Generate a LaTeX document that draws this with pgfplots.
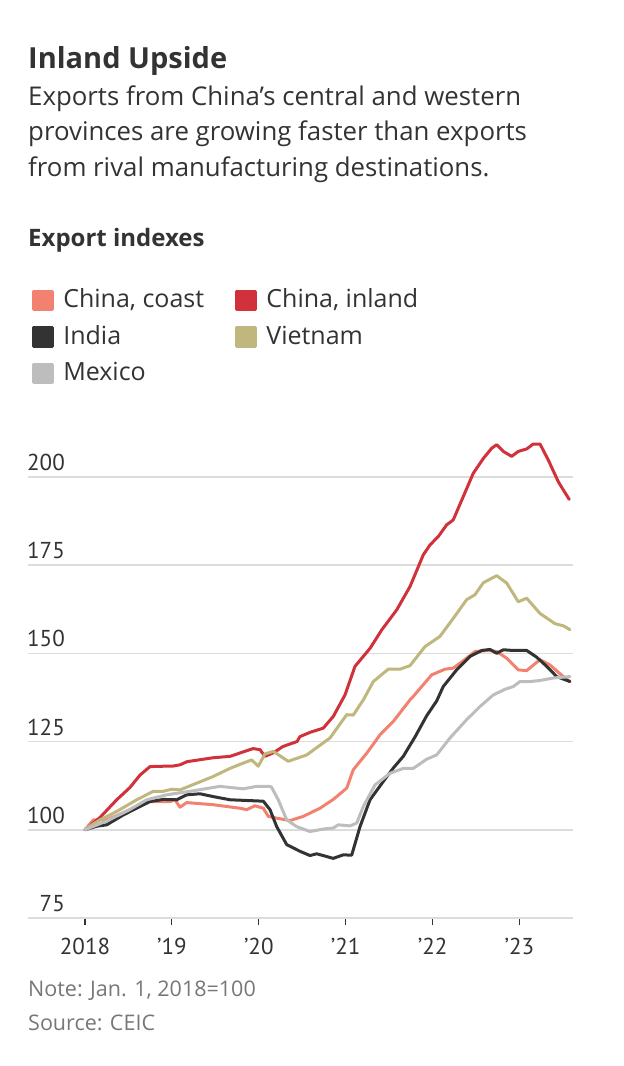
\documentclass[border=0pt]{standalone}
\usepackage{fontspec}
\setmainfont{Open Sans}
\newfontfamily\ticksfont{PT Sans}
\usepackage{pgfplots}
\pgfplotsset{compat=1.18}
\definecolor{coast}{HTML}{F2826F}
\definecolor{inland}{HTML}{D1313A}
\definecolor{india}{HTML}{333333}
\definecolor{vietnam}{HTML}{BFB77D}
\definecolor{mexico}{HTML}{BDBDBD}
\definecolor{gridc}{HTML}{DCDCDC}
\definecolor{txt}{HTML}{333333}
\definecolor{notec}{HTML}{777777}
\begin{document}
\begin{tikzpicture}[x=1pt,y=1pt]
\path[use as bounding box] (0,0) rectangle (624,-1066);
\node[anchor=base west, inner sep=0, text=txt, font=\bfseries\fontsize{29}{36}\selectfont] at (28,-68.3) {Inland Upside};
\node[anchor=base west, inner sep=0, text=txt, font=\fontsize{25.8}{30}\selectfont] at (28,-105) {Exports from China’s central and western};
\node[anchor=base west, inner sep=0, text=txt, font=\fontsize{25.8}{30}\selectfont] at (28,-140.7) {provinces are growing faster than exports};
\node[anchor=base west, inner sep=0, text=txt, font=\fontsize{25.8}{30}\selectfont] at (28,-176.5) {from rival manufacturing destinations.};
\node[anchor=base west, inner sep=0, text=txt, font=\bfseries\fontsize{24}{30}\selectfont] at (28,-246.7) {Export indexes};
\node[anchor=base west, inner sep=0, text=notec, font=\fontsize{21.5}{26}\selectfont] at (28,-996.7) {Note: Jan. 1, 2018=100};
\node[anchor=base west, inner sep=0, text=notec, font=\fontsize{21.5}{26}\selectfont] at (28,-1030.7) {Source: CEIC};
\begin{axis}[
  at={(28pt,-918pt)}, anchor=south west,
  scale only axis, width=545pt, height=480pt,
  xmin=-0.656, xmax=5.616, ymin=75, ymax=211,
  clip=false,
  separate axis lines,
  axis x line*=bottom, axis y line*=left,
  x axis line style={draw=gridc, line width=1.5pt},
  y axis line style={draw=none},
  xtick={0,1,2,3,4,5},
  xticklabels={2018,’19,’20,’21,’22,’23},
  ytick={75,100,125,150,175,200},
  ymajorgrids,
  grid style={draw=gridc, line width=1.5pt},
  tick align=outside,
  major tick length=7pt,
  xtick style={draw=txt, line width=1.2pt},
  ytick style={draw=none},
  /pgf/number format/assume math mode=true,
  ticklabel style={font=\ticksfont\fontsize{23}{23}\selectfont, text=txt},
  xticklabel style={anchor=north, inner sep=0pt, yshift=-13pt},
  yticklabel style={anchor=south east, inner sep=0pt, xshift=44pt, yshift=6pt},
  legend columns=2,
  legend cell align=left,
  legend style={at={(axis description cs:0.00734,1.3131)}, anchor=north west,
    draw=none, fill=none, inner sep=0pt, row sep=11.5pt,
    font=\fontsize{25}{25}\selectfont, text=txt,
    nodes={inner sep=0pt, text height=20pt, text depth=5pt},
    /tikz/every odd column/.append style={column sep=9.5pt},
    /tikz/every even column/.append style={column sep=0pt}},
  legend image code/.code={\fill[#1] (0pt,-9.3pt) rectangle (18.6pt,9.3pt);},
  every axis plot/.append style={line width=3pt, line join=round, line cap=round},
]
\addplot[color=coast] coordinates {
(0,100) (0.096,102.8) (0.250,102.8) (0.518,105.7) (0.748,108) (0.978,108) (1.036,108.5) (1.093,106.4) (1.170,107.7) (1.476,107.1) (1.784,106.1) (1.861,105.7) (1.956,106.8) (2.052,106.1) (2.109,103.8) (2.206,103.3) (2.359,102.6) (2.512,103.8) (2.704,106.1) (2.857,108.6) (3.012,111.8) (3.087,117) (3.242,121.7) (3.395,126.9) (3.548,130.7) (3.740,136.8) (3.778,137.8) (3.990,143.9) (4.143,145.5) (4.238,145.8) (4.392,148.6) (4.488,150.5) (4.641,150.8) (4.738,150.5) (4.853,148.6) (4.986,145.3) (5.083,145.1) (5.236,148.2) (5.351,146.7) (5.504,143.4) (5.581,142)
};
\addlegendentry{\makebox[172pt][l]{China, coast}}
\addplot[color=inland] coordinates {
(0,100) (0.173,103.5) (0.365,108.5) (0.518,112) (0.633,115.5) (0.748,117.9) (0.898,118.0) (0.998,118.0) (1.093,118.4) (1.174,119.3) (1.473,120.4) (1.669,120.8) (1.933,123) (2.014,122.7) (2.071,120.8) (2.167,121.8) (2.278,123.6) (2.440,125) (2.474,126.4) (2.589,127.6) (2.742,128.8) (2.857,132.1) (2.992,138.2) (3.107,146.3) (3.280,151.4) (3.414,156.6) (3.587,162.3) (3.740,168.9) (3.893,177.9) (3.970,180.7) (4.066,183.1) (4.162,186.4) (4.238,187.8) (4.353,194.4) (4.468,201.0) (4.584,205.2) (4.680,208.1) (4.738,209.1) (4.814,207.2) (4.910,205.8) (4.986,207.2) (5.083,207.9) (5.159,209.3) (5.236,209.3) (5.331,204.8) (5.447,198.6) (5.504,196.3) (5.573,193.6)
};
\addlegendentry{China, inland}
\addplot[color=india] coordinates {
(0,100) (0.135,101) (0.250,101.4) (0.441,104.2) (0.633,106.6) (0.748,108) (0.901,108.6) (1.055,108.5) (1.170,109.9) (1.323,110.2) (1.476,109.4) (1.669,108.5) (1.861,108.3) (2.052,108.1) (2.129,105.7) (2.206,100.9) (2.321,95.8) (2.474,93.9) (2.589,92.7) (2.666,93.2) (2.857,91.9) (2.972,92.9) (3.069,92.8) (3.165,100.9) (3.280,108.5) (3.433,113.7) (3.548,117.5) (3.663,120.8) (3.800,126.4) (3.932,132.3) (4.047,136.5) (4.123,140.6) (4.277,145.3) (4.430,149.1) (4.565,150.8) (4.661,151.1) (4.738,150) (4.814,151) (4.929,150.8) (5.083,150.8) (5.198,148.9) (5.313,146.3) (5.428,143.4) (5.581,142)
};
\addlegendentry{\makebox[172pt][l]{India}}
\addplot[color=vietnam] coordinates {
(0,100.2) (0.173,102.8) (0.365,105.2) (0.595,108.5) (0.786,110.9) (0.901,110.9) (0.998,111.5) (1.093,111.3) (1.285,113.2) (1.476,115.1) (1.669,117.4) (1.822,118.9) (1.918,119.8) (1.994,118.0) (2.071,121.5) (2.167,122.2) (2.339,119.4) (2.551,121.2) (2.819,126) (2.915,129.3) (3.012,132.6) (3.087,132.5) (3.203,136.8) (3.318,142) (3.490,145.5) (3.625,145.5) (3.740,146.5) (3.913,151.9) (4.085,154.8) (4.238,159.9) (4.392,165.2) (4.488,166.6) (4.584,170) (4.738,172) (4.853,169.9) (4.986,164.6) (5.083,165.6) (5.236,161.3) (5.408,158.4) (5.504,157.8) (5.581,156.7)
};
\addlegendentry{Vietnam}
\addplot[color=mexico] coordinates {
(0,100) (0.25,102.5) (0.5,105.5) (0.710,108.5) (0.940,109.9) (1.208,110.9) (1.553,112.3) (1.822,111.6) (1.976,112.3) (2.129,112.3) (2.148,112) (2.224,108.5) (2.321,102.8) (2.436,100.9) (2.589,99.5) (2.742,100.2) (2.857,100.5) (2.915,101.4) (3.049,101.1) (3.127,101.9) (3.203,106.6) (3.337,112.7) (3.510,116) (3.663,117.4) (3.778,117.4) (3.932,120) (4.047,121.2) (4.200,126) (4.392,131.2) (4.545,134.9) (4.698,138.2) (4.833,139.8) (4.929,140.6) (5.006,142) (5.121,142) (5.236,142.3) (5.389,143) (5.581,143.4)
};
\addlegendentry{Mexico}
\end{axis}
\end{tikzpicture}
\end{document}
